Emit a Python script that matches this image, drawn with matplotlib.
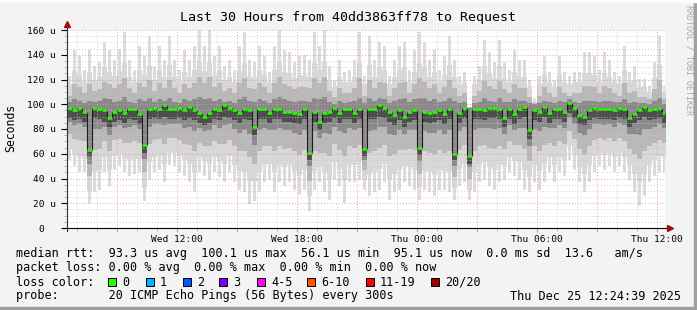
import numpy as np
import matplotlib
matplotlib.use("Agg")
import matplotlib.pyplot as plt
from matplotlib.patches import Rectangle
from matplotlib.lines import Line2D
from matplotlib.ticker import FixedLocator, MultipleLocator

W, H = 697, 310

# time axis in hours since Wed 00:00, one bin = 15 minutes
t_start = 6.5
t_span = 29.9
bin_h = 0.25

# median rtt per bin (us)
med = [97, 95, 97, 94, 63, 97, 96, 95, 89, 94, 95, 93, 96, 96, 92, 67, 96, 97, 96, 99,
       96, 96, 97, 95, 98, 95, 93, 90, 93, 96, 95, 99, 97, 95, 93, 96, 95, 82, 96, 96,
       93, 96, 96, 94, 94, 93, 92, 96, 61, 94, 86, 93, 94, 97, 93, 96, 96, 93, 96, 64,
       96, 96, 99, 97, 94, 91, 95, 90, 94, 95, 65, 94, 93, 94, 95, 92, 96, 60, 93, 97,
       58, 96, 96, 95, 97, 97, 96, 89, 96, 92, 96, 98, 79, 95, 94, 98, 93, 96, 96, 94,
       101, 97, 91, 90, 95, 97, 96, 96, 96, 95, 97, 96, 89, 92, 95, 98, 95, 96, 97, 93]

# outer smoke spikes (max / min ping)
hi1 = [123, 144, 139, 128, 144, 131, 134, 150, 144, 136, 145, 158, 136, 128, 147, 139, 155, 131, 147, 136,
       155, 136, 128, 144, 136, 147, 160, 147, 160, 139, 147, 131, 136, 128, 147, 158, 136, 134, 147, 139,
       126, 147, 160, 144, 142, 134, 139, 140, 136, 158, 147, 160, 131, 120, 136, 126, 128, 136, 158, 123,
       155, 136, 150, 147, 123, 136, 147, 150, 128, 144, 158, 150, 136, 144, 128, 139, 155, 136, 123, 126,
       98, 123, 131, 152, 142, 134, 152, 134, 128, 144, 136, 136, 120, 104, 123, 139, 126, 120, 139, 126,
       123, 126, 126, 142, 142, 139, 128, 142, 136, 126, 123, 147, 126, 131, 120, 120, 115, 134, 155, 115]
lo1 = [55, 50, 45, 45, 20, 29, 31, 45, 34, 47, 50, 45, 42, 44, 45, 22, 39, 45, 47, 37,
       51, 50, 45, 42, 37, 29, 45, 42, 39, 45, 41, 37, 45, 37, 31, 29, 19, 22, 29, 37,
       39, 29, 37, 34, 37, 31, 27, 31, 14, 31, 37, 29, 23, 39, 34, 20, 37, 37, 39, 31,
       26, 29, 31, 37, 23, 29, 31, 37, 34, 31, 23, 31, 29, 26, 31, 31, 29, 23, 34, 37,
       23, 29, 37, 39, 34, 31, 37, 39, 45, 42, 39, 31, 29, 37, 31, 37, 45, 37, 45, 42,
       55, 47, 37, 29, 37, 45, 50, 47, 50, 45, 50, 45, 39, 29, 18, 26, 37, 42, 45, 45]

# outer smoke body
hi1b = [116, 127, 124, 118, 126, 120, 122, 130, 126, 123, 127, 133, 122, 118, 128, 124, 131, 120, 128, 122,
        132, 122, 118, 126, 122, 128, 134, 127, 134, 124, 128, 120, 122, 118, 127, 133, 123, 121, 128, 124,
        118, 128, 134, 126, 125, 121, 124, 124, 122, 133, 128, 134, 120, 114, 122, 118, 118, 122, 133, 116,
        132, 122, 130, 128, 116, 122, 128, 130, 118, 126, 133, 130, 122, 126, 118, 124, 132, 122, 116, 118,
        98, 116, 120, 131, 125, 121, 131, 121, 118, 126, 122, 122, 114, 102, 116, 124, 118, 114, 124, 118,
        116, 118, 118, 125, 125, 124, 118, 125, 122, 118, 116, 128, 118, 120, 114, 114, 110, 121, 132, 110]
lo1b = [64, 60, 57, 56, 30, 45, 47, 57, 47, 58, 60, 56, 55, 56, 56, 32, 53, 57, 59, 52,
        61, 61, 58, 55, 52, 45, 57, 54, 52, 57, 54, 52, 58, 51, 46, 45, 38, 37, 45, 51,
        52, 45, 51, 49, 51, 46, 43, 47, 26, 46, 49, 45, 40, 53, 48, 39, 51, 51, 53, 39,
        43, 45, 48, 52, 40, 44, 47, 50, 49, 47, 33, 46, 45, 43, 47, 46, 45, 32, 48, 52,
        31, 45, 51, 53, 49, 47, 51, 51, 57, 54, 53, 47, 41, 51, 46, 52, 57, 51, 57, 55,
        66, 59, 50, 44, 51, 58, 61, 59, 61, 57, 61, 57, 51, 44, 37, 44, 51, 55, 58, 57]

# middle smoke
hi2 = [107, 116, 114, 109, 116, 111, 112, 118, 116, 113, 116, 121, 113, 109, 117, 114, 120, 111, 117, 113,
       120, 113, 109, 116, 113, 117, 122, 117, 122, 114, 117, 111, 113, 109, 117, 121, 113, 112, 117, 114,
       109, 117, 122, 116, 115, 112, 114, 114, 113, 121, 117, 122, 111, 106, 113, 109, 109, 113, 121, 107,
       120, 113, 118, 117, 107, 113, 117, 118, 109, 116, 121, 118, 113, 116, 109, 114, 120, 113, 107, 109,
       98, 107, 111, 119, 115, 112, 119, 112, 109, 116, 113, 113, 106, 101, 107, 114, 109, 106, 114, 109,
       107, 109, 109, 115, 115, 114, 109, 115, 113, 109, 107, 117, 109, 111, 106, 106, 104, 112, 120, 104]
lo2 = [76, 72, 71, 70, 42, 63, 64, 70, 62, 71, 72, 69, 69, 70, 69, 45, 68, 71, 72, 68,
       73, 73, 71, 68, 67, 62, 69, 66, 66, 70, 68, 68, 71, 66, 62, 62, 57, 52, 62, 66,
       66, 62, 66, 64, 65, 62, 59, 63, 38, 62, 61, 61, 58, 68, 63, 58, 66, 65, 67, 47,
       61, 62, 65, 67, 58, 60, 63, 63, 64, 63, 44, 62, 61, 60, 63, 61, 62, 41, 63, 67,
       40, 62, 66, 67, 65, 64, 66, 64, 70, 67, 67, 64, 54, 66, 62, 67, 69, 66, 70, 68,
       78, 72, 64, 60, 66, 71, 73, 71, 73, 70, 73, 70, 64, 60, 56, 62, 66, 69, 71, 69]

# inner smoke
hi3 = [102, 104, 103, 101, 103, 102, 103, 105, 104, 102, 103, 106, 102, 101, 104, 103, 105, 102, 104, 103,
       105, 102, 101, 104, 103, 104, 106, 104, 105, 103, 104, 102, 103, 101, 104, 106, 103, 102, 104, 103,
       101, 104, 106, 104, 103, 102, 103, 103, 102, 105, 104, 106, 102, 100, 103, 101, 102, 103, 105, 101,
       105, 103, 105, 104, 101, 103, 104, 105, 102, 104, 105, 105, 103, 104, 102, 103, 105, 103, 101, 102,
       97, 101, 102, 105, 103, 102, 105, 102, 102, 104, 103, 103, 101, 100, 101, 103, 102, 101, 103, 102,
       104, 102, 101, 103, 103, 103, 102, 103, 103, 102, 102, 104, 101, 102, 101, 101, 100, 103, 105, 100]
lo3 = [86, 83, 84, 82, 52, 80, 80, 82, 75, 82, 83, 81, 82, 83, 80, 56, 82, 84, 84, 83,
       84, 84, 84, 81, 82, 78, 81, 78, 79, 83, 81, 83, 84, 80, 77, 79, 76, 67, 79, 81,
       79, 79, 81, 79, 79, 77, 75, 79, 50, 78, 73, 77, 76, 82, 78, 77, 81, 79, 81, 55,
       78, 79, 82, 82, 76, 75, 79, 76, 79, 79, 54, 78, 77, 77, 79, 76, 79, 50, 78, 82,
       49, 79, 81, 81, 81, 80, 81, 76, 83, 79, 81, 81, 66, 80, 78, 82, 81, 81, 83, 81,
       89, 84, 77, 75, 80, 84, 84, 83, 84, 82, 85, 83, 76, 76, 75, 80, 80, 82, 84, 81]

# darkest smoke, just under the median
lo4 = [89, 87, 88, 86, 58, 89, 88, 86, 82, 86, 87, 85, 88, 87, 84, 61, 88, 89, 88, 90,
       88, 88, 89, 87, 89, 87, 85, 83, 85, 88, 87, 90, 89, 87, 85, 88, 87, 75, 88, 88,
       85, 88, 88, 86, 86, 85, 84, 88, 55, 86, 79, 85, 86, 89, 85, 88, 88, 85, 88, 58,
       88, 88, 90, 89, 86, 83, 87, 82, 86, 87, 59, 86, 85, 86, 87, 84, 88, 55, 85, 89,
       52, 88, 88, 87, 89, 89, 88, 82, 88, 84, 88, 90, 72, 87, 86, 90, 85, 88, 88, 86,
       93, 89, 84, 83, 87, 89, 88, 88, 88, 87, 89, 88, 82, 85, 87, 90, 87, 88, 89, 85]

x_ticks = [12, 18, 24, 30, 36]
x_labels = ["Wed 12:00", "Wed 18:00", "Thu 00:00", "Thu 06:00", "Thu 12:00"]
y_ticks = [0, 20, 40, 60, 80, 100, 120, 140, 160]
y_labels = ["0  ", "20 u", "40 u", "60 u", "80 u", "100 u", "120 u", "140 u", "160 u"]

loss_labels = ["0", "1", "2", "3", "4-5", "6-10", "11-19", "20/20"]
loss_colors = ["#26ff00", "#00b8ff", "#0059ff", "#7a00ff", "#ff00ff", "#ff5500", "#ff0000", "#a00000"]

legend_rows = [
    "median rtt:  93.3 us avg  100.1 us max  56.1 us min  95.1 us now  0.0 ms sd  13.6   am/s",
    "packet loss: 0.00 % avg  0.00 % max  0.00 % min  0.00 % now",
    "loss color:",
    "probe:       20 ICMP Echo Pings (56 Bytes) every 300s",
]
stamp = "Thu Dec 25 12:24:39 2025"
title = "Last 30 Hours from 40dd3863ff78 to Request"

mono = "DejaVu Sans Mono"
plt.rcParams["font.family"] = mono


def fx(px):
    return px / W


def fy(py):
    return 1 - py / H


fig = plt.figure(figsize=(W / 100, H / 100), dpi=100, facecolor="#f3f3f3")

# frame shading like rrdtool
fig.patches.append(Rectangle((0, 0), 1, fy(307), transform=fig.transFigure,
                             color="#a0a0a0", zorder=0))
fig.patches.append(Rectangle((fx(694), 0), fx(3), 1, transform=fig.transFigure,
                             color="#a0a0a0", zorder=0))
fig.patches.append(Rectangle((0, fy(2)), 1, 2 / H, transform=fig.transFigure,
                             color="#fcfcfc", zorder=0))

ax = fig.add_axes([fx(67), fy(228), 598 / W, 198 / H])
ax.set_facecolor("white")

edges = t_start + bin_h * np.arange(len(med) + 1)
centers = edges[:-1] + bin_h / 2


def ext(a):
    return np.append(a, a[-1])


# smoke: thin spikes for the extremes, then layered bands towards the median
ax.bar(centers, np.array(hi1) - np.array(lo1), bottom=lo1, width=bin_h * 0.55,
       color="#dcdcdc", lw=0)
ax.fill_between(edges, ext(lo1b), ext(hi1b), step="post", color="#d8d8d8", lw=0)
ax.fill_between(edges, ext(lo2), ext(hi2), step="post", color="#b8b8b8", lw=0)
ax.fill_between(edges, ext(lo3), ext(hi3), step="post", color="#8a8a8a", lw=0)
ax.fill_between(edges, ext(lo4), ext(med), step="post", color="#4e4e4e", lw=0)
ax.step(edges, ext(med), where="post", color="#1a1a1a", lw=0.8, zorder=3)
ax.hlines(med, edges[:-1], edges[1:], color="#26ff00", lw=1.8, zorder=4)

ax.set_xlim(t_start, t_start + t_span)
ax.set_ylim(0, 160)

# grid: grey every hour / 5 us, red every 3 hours / 20 us
major_x = np.arange(9, 37, 3)
ax.xaxis.set_major_locator(FixedLocator(major_x))
ax.xaxis.set_minor_locator(MultipleLocator(1))
ax.set_xticklabels([x_labels[x_ticks.index(v)] if v in x_ticks else "" for v in major_x])
ax.yaxis.set_major_locator(FixedLocator(y_ticks))
ax.yaxis.set_minor_locator(MultipleLocator(5))
ax.set_yticklabels(y_labels)
ax.grid(which="minor", color="#c8c8c8", ls=(0, (1, 2)), lw=0.7, alpha=0.8)
ax.grid(which="major", color="#e89090", ls=(0, (1, 2)), lw=0.7, alpha=0.9)
ax.set_axisbelow(False)

ax.tick_params(axis="both", which="both", labelsize=6.8, colors="#000000")
ax.tick_params(axis="x", which="major", length=3, pad=2, color="#e89090")
ax.tick_params(axis="x", which="minor", length=2, color="#b0b0b0")
ax.tick_params(axis="y", which="major", length=4, pad=4, color="#000000")
ax.tick_params(axis="y", which="minor", length=2, color="#b0b0b0")
for s in ax.spines.values():
    s.set_visible(False)

# axis lines with arrows
fig.lines.append(Line2D([fx(67), fx(67)], [fy(231), fy(25)], transform=fig.transFigure,
                        color="#303030", lw=0.8))
fig.lines.append(Line2D([fx(63), fx(669)], [fy(228), fy(228)], transform=fig.transFigure,
                        color="#000000", lw=0.8))
fig.lines.append(Line2D([fx(67)], [fy(24)], transform=fig.transFigure, marker="^",
                        ms=4, color="#9a1010", lw=0))
fig.lines.append(Line2D([fx(670)], [fy(228)], transform=fig.transFigure, marker=">",
                        ms=4, color="#9a1010", lw=0))

fig.text(fx(348), fy(18), title, ha="center", va="center", fontsize=9.6)
fig.text(fx(11), fy(128), "Seconds", rotation=90, ha="center", va="center", fontsize=8.3)
fig.text(fx(689), fy(5), "RRDTOOL / TOBI OETIKER", rotation=270, ha="center", va="top",
         fontsize=6, color="#a8a8a8")

row_y = [254, 268, 282, 296]
for txt, yy in zip(legend_rows, row_y):
    fig.text(fx(16), fy(yy), txt, ha="left", va="center", fontsize=8.5)
fig.text(fx(681), fy(296), stamp, ha="right", va="center", fontsize=8.5)

box_x = [108, 146, 183, 219, 257, 307, 366, 431]
for bx, lab, col in zip(box_x, loss_labels, loss_colors):
    fig.patches.append(Rectangle((fx(bx), fy(286)), fx(8), 8 / H, transform=fig.transFigure,
                                 facecolor=col, edgecolor="black", lw=0.7))
    fig.text(fx(bx + 14), fy(282), lab, ha="left", va="center", fontsize=8.5)

fig.savefig("out.png", dpi=100, facecolor=fig.get_facecolor())
